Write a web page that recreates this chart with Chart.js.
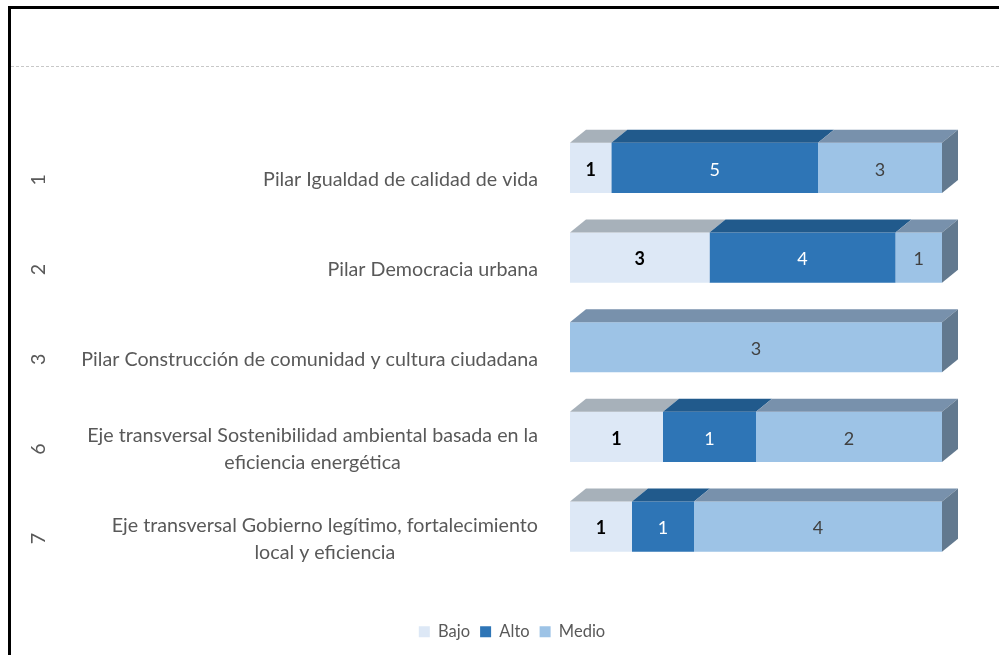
<!DOCTYPE html>
<html>
<head>
<meta charset="utf-8">
<script src="https://cdn.jsdelivr.net/npm/chart.js@4.4.0/dist/chart.umd.min.js"></script>
<style>
  html, body { margin: 0; padding: 0; background: #ffffff; }
  #wrap { width: 999px; height: 655px; position: relative; }
</style>
</head>
<body>
<div id="wrap"><canvas id="myChart" width="999" height="655"></canvas></div>
<script>
// data
const groupNumbers = ['1', '2', '3', '6', '7'];
const categories = [
    ['Pilar Igualdad de calidad de vida'],
    ['Pilar Democracia urbana'],
    ['Pilar Construcción de comunidad y cultura ciudadana'],
    ['Eje transversal Sostenibilidad ambiental basada en la', 'eficiencia energética'],
    ['Eje transversal Gobierno legítimo, fortalecimiento', 'local y eficiencia']
];
const seriesNames = ['Bajo', 'Alto', 'Medio'];
const bajo = [1, 3, 0, 1, 1];
const alto = [5, 4, 0, 1, 1];
const medio = [3, 1, 3, 2, 4];

const rawValues = [bajo, alto, medio];
const totals = bajo.map((v, i) => v + alto[i] + medio[i]);
// 100% stacked
const toPercent = arr => arr.map((v, i) => v / totals[i] * 100);

const frontColors = ['#dde8f6', '#2e75b6', '#9dc3e6'];
const topColors = ['#a7b1ba', '#215a8c', '#7891ac'];
const sideColors = ['#8e979f', '#1b4a74', '#62798f'];
const labelColors = ['#000000', '#ffffff', '#404040'];
const labelWeights = ['bold', 'normal', 'normal'];
const textGray = '#595959';
const fontFam = 'Lato, "Open Sans", sans-serif';
const depthX = 16;
const depthY = 13;

const ctx = document.getElementById('myChart');

// frame, dashed separator
const framePlugin = {
    id: 'frame',
    beforeDraw(chart) {
        const c = chart.ctx;
        c.save();
        c.fillStyle = '#ffffff';
        c.fillRect(0, 0, chart.width, chart.height);
        c.fillStyle = '#000000';
        c.fillRect(8, 6, 3, chart.height - 6);
        c.fillRect(8, 6, chart.width - 8, 3);
        c.strokeStyle = '#c8c8c8';
        c.lineWidth = 1;
        c.setLineDash([3, 2]);
        c.beginPath();
        c.moveTo(11, 66.5);
        c.lineTo(chart.width, 66.5);
        c.stroke();
        c.restore();
    }
};

// 3d faces + value labels
const bar3dPlugin = {
    id: 'bar3d',
    afterDatasetsDraw(chart) {
        const c = chart.ctx;
        c.save();
        const lastIdx = {};
        chart.data.datasets.forEach((ds, d) => {
            chart.getDatasetMeta(d).data.forEach((el, i) => {
                if (ds.data[i] > 0) lastIdx[i] = d;
            });
        });
        chart.data.datasets.forEach((ds, d) => {
            const meta = chart.getDatasetMeta(d);
            meta.data.forEach((el, i) => {
                if (!(ds.data[i] > 0)) return;
                const top = el.y - el.height / 2;
                const bottom = el.y + el.height / 2;
                const x0 = Math.min(el.base, el.x);
                const x1 = Math.max(el.base, el.x);
                c.fillStyle = topColors[d];
                c.beginPath();
                c.moveTo(x0, top);
                c.lineTo(x1, top);
                c.lineTo(x1 + depthX, top - depthY);
                c.lineTo(x0 + depthX, top - depthY);
                c.closePath();
                c.fill();
                if (lastIdx[i] === d) {
                    c.fillStyle = sideColors[d];
                    c.beginPath();
                    c.moveTo(x1, top);
                    c.lineTo(x1 + depthX, top - depthY);
                    c.lineTo(x1 + depthX, bottom - depthY);
                    c.lineTo(x1, bottom);
                    c.closePath();
                    c.fill();
                }
            });
        });
        chart.data.datasets.forEach((ds, d) => {
            const meta = chart.getDatasetMeta(d);
            meta.data.forEach((el, i) => {
                if (!(ds.data[i] > 0)) return;
                c.fillStyle = labelColors[d];
                c.font = labelWeights[d] + ' 18px ' + fontFam;
                c.textAlign = 'center';
                c.textBaseline = 'middle';
                c.fillText(String(rawValues[d][i]), (el.base + el.x) / 2, el.y + 2);
            });
        });
        c.restore();
    },
    afterDraw(chart) {
        const c = chart.ctx;
        const yScale = chart.scales.y;
        c.save();
        c.fillStyle = textGray;
        c.font = '19.7px ' + fontFam;
        c.textBaseline = 'middle';
        const rightEdge = 538;
        const lineH = 27;
        categories.forEach((lines, i) => {
            const yc = yScale.getPixelForValue(i) + 12;
            const maxW = Math.max(...lines.map(l => c.measureText(l).width));
            const cx = rightEdge - maxW / 2;
            c.textAlign = 'center';
            lines.forEach((l, k) => {
                c.fillText(l, cx, yc + (k - (lines.length - 1) / 2) * lineH);
            });
            c.save();
            c.translate(39, yc);
            c.rotate(-Math.PI / 2);
            c.fillText(groupNumbers[i], 0, 0);
            c.restore();
        });
        c.restore();
    }
};

const chart = new Chart(ctx, {
    type: 'bar',
    data: {
        labels: categories,
        datasets: seriesNames.map((name, d) => ({
            label: name,
            data: toPercent(rawValues[d]),
            backgroundColor: frontColors[d],
            borderWidth: 0,
            barPercentage: 0.56,
            categoryPercentage: 1
        }))
    },
    options: {
        indexAxis: 'y',
        responsive: false,
        animation: false,
        layout: { padding: { left: 82, right: 57, top: 123, bottom: 5 } },
        scales: {
            x: {
                stacked: true, min: 0, max: 100, display: true,
                grid: { display: false }, border: { display: false },
                ticks: { display: false },
                afterFit: s => { s.height = 42; }
            },
            y: {
                stacked: true, display: true,
                grid: { display: false }, border: { display: false },
                ticks: { display: false },
                afterFit: s => { s.width = 488; }
            }
        },
        plugins: {
            legend: {
                position: 'bottom',
                labels: {
                    boxWidth: 11, boxHeight: 11, padding: 10,
                    color: textGray,
                    font: { family: fontFam, size: 16.5 }
                }
            },
            tooltip: { enabled: false }
        }
    },
    plugins: [framePlugin, bar3dPlugin]
});
</script>
</body>
</html>
